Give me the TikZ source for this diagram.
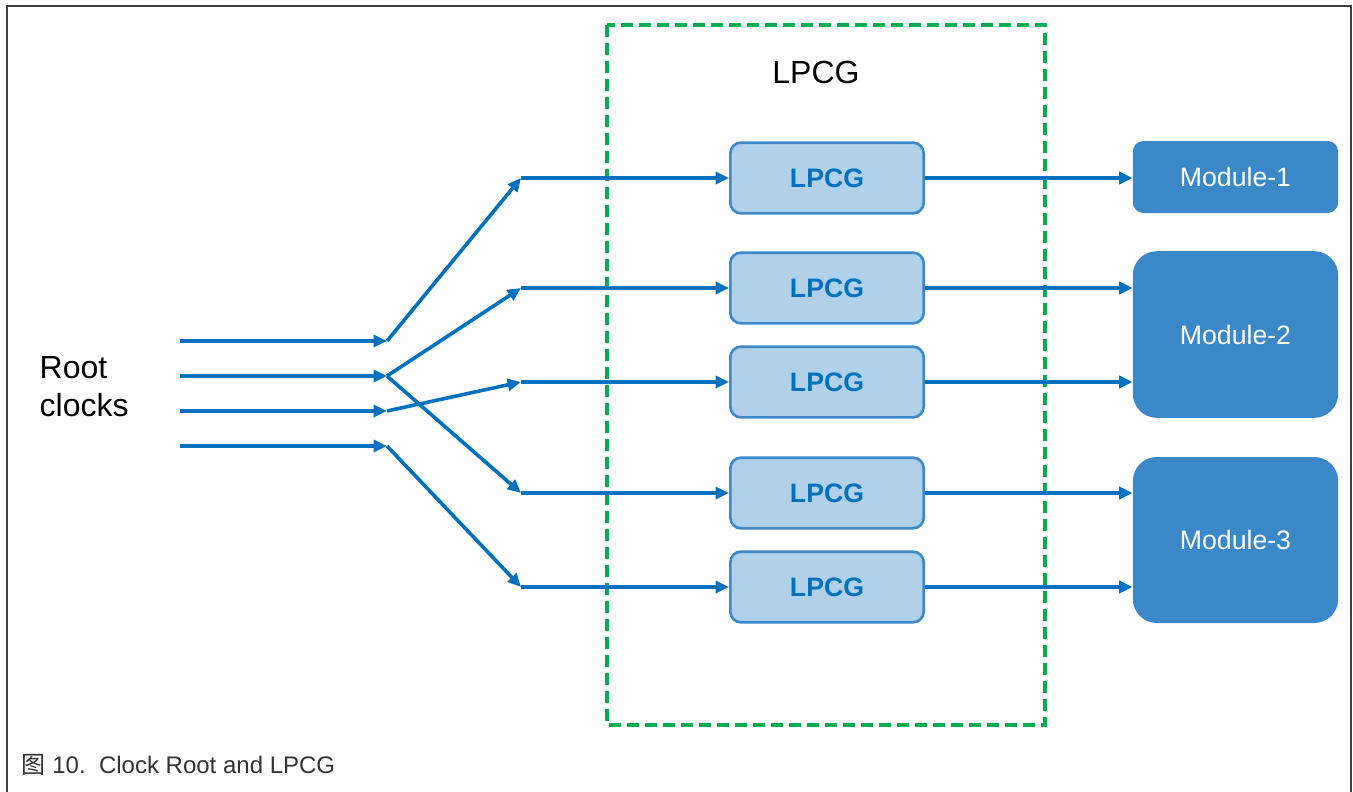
\documentclass[tikz,border=0pt]{standalone}
\usepackage{fontspec}
\setmainfont{Liberation Sans}
\newfontfamily\cjk{Noto Sans CJK SC}
\usetikzlibrary{arrows.meta}
\definecolor{arrowblue}{HTML}{0070C0}
\definecolor{lpcgfill}{HTML}{B1D0EA}
\definecolor{lpcgedge}{HTML}{3D89C9}
\definecolor{modfill}{HTML}{3A88C8}
\definecolor{dashgreen}{HTML}{00B050}
\definecolor{framegray}{HTML}{404040}
\definecolor{captext}{HTML}{333333}
\begin{document}
\begin{tikzpicture}[x=0.75pt,y=-0.75pt,
  clk/.style={draw=arrowblue,line width=2.7pt,-{Triangle[length=10pt,width=9pt]}},
  lpcgbox/.style={draw=lpcgedge,line width=2pt,fill=lpcgfill,rounded corners=8pt,
    minimum width=145pt,minimum height=53pt,inner sep=0pt,
    text=arrowblue,font=\fontsize{20}{22}\selectfont\bfseries},
  modbox/.style={fill=modfill,rounded corners=#1,minimum width=154pt,inner sep=0pt,
    text=white,font=\fontsize{20}{22}\selectfont},
  modbox/.default=8pt
]
\useasboundingbox (0,0) rectangle (1353,792);
% frame
\draw[framegray,line width=2.2pt] (7,800) -- (7,6) -- (1351,6) -- (1351,800);
% green dashed LPCG region
\draw[dashgreen,line width=2.3pt,dash pattern=on 9pt off 4.5pt] (607,25) rectangle (1045,725);
\node[font=\fontsize{24}{26}\selectfont] (title) at (816,72) {LPCG};
% LPCG boxes
\node[lpcgbox] (l1) at (827,178) {LPCG};
\node[lpcgbox] (l2) at (827,288) {LPCG};
\node[lpcgbox] (l3) at (827,382) {LPCG};
\node[lpcgbox] (l4) at (827,493) {LPCG};
\node[lpcgbox] (l5) at (827,587) {LPCG};
% modules
\node[modbox,minimum height=54pt] (m1) at (1235.5,177) {Module-1};
\node[modbox=18pt,minimum height=125pt] (m2) at (1235.5,334.5) {Module-2};
\node[modbox=18pt,minimum height=124.5pt] (m3) at (1235.5,540) {Module-3};
% root clocks
\node[anchor=west,align=left,font=\fontsize{24}{28.5}\selectfont] (root) at (35,387) {Root\\clocks};
% coordinates
\coordinate (s1) at (180,341); \coordinate (a1) at (387,341);
\coordinate (s2) at (180,376); \coordinate (a2) at (387,376);
\coordinate (s3) at (180,411); \coordinate (a3) at (387,411);
\coordinate (s4) at (180,446); \coordinate (a4) at (387,446);
\coordinate (b1) at (521,178);
\coordinate (b2) at (521,288);
\coordinate (b3) at (521,382);
\coordinate (b4) at (521,493);
\coordinate (b5) at (521,587);
% input arrows
\draw[clk] (s1) -- (a1);
\draw[clk] (s2) -- (a2);
\draw[clk] (s3) -- (a3);
\draw[clk] (s4) -- (a4);
% fan out
\draw[clk] (a1) -- (b1);
\draw[clk] (a2) -- (b2);
\draw[clk] (a2) -- (b4);
\draw[clk] (a3) -- (b3);
\draw[clk] (a4) -- (b5);
% into LPCG
\draw[clk] (b1) -- (l1.west);
\draw[clk] (b2) -- (l2.west);
\draw[clk] (b3) -- (l3.west);
\draw[clk] (b4) -- (l4.west);
\draw[clk] (b5) -- (l5.west);
% to modules
\draw[clk] (l1.east) -- (l1.east -| m1.west);
\draw[clk] (l2.east) -- (l2.east -| m2.west);
\draw[clk] (l3.east) -- (l3.east -| m2.west);
\draw[clk] (l4.east) -- (l4.east -| m3.west);
\draw[clk] (l5.east) -- (l5.east -| m3.west);
% caption
\node[anchor=west,text=captext,font=\fontsize{18}{20}\selectfont] (cap) at (17,765) {{\cjk 图} 10.\ \ Clock Root and LPCG};
\end{tikzpicture}
\end{document}
